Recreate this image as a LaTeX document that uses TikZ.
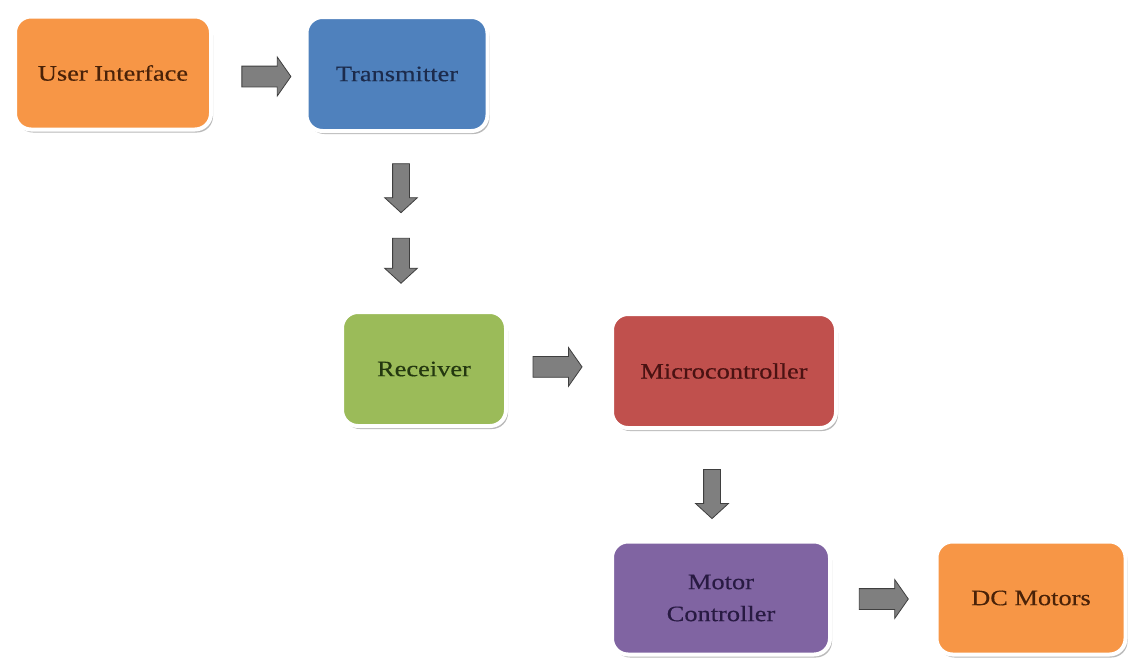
\documentclass[tikz,border=0pt]{standalone}
\usepackage{fontspec}
\setmainfont{Liberation Serif}[FakeStretch=1.2,FakeBold=0.4]
\usetikzlibrary{shapes.arrows,shadows,calc}
\definecolor{cOrange}{HTML}{F79646}
\definecolor{cBlue}{HTML}{4F81BD}
\definecolor{cGreen}{HTML}{9BBB59}
\definecolor{cRed}{HTML}{C0504D}
\definecolor{cPurple}{HTML}{8064A2}
\definecolor{tOrange}{HTML}{4A2208}
\definecolor{tBlue}{HTML}{1C2B4C}
\definecolor{tGreen}{HTML}{243810}
\definecolor{tRed}{HTML}{4A1212}
\definecolor{tPurple}{HTML}{281A42}
\definecolor{arrowgray}{HTML}{7F7F7F}
\definecolor{arrowedge}{HTML}{3F3F3F}
\begin{document}
\begin{tikzpicture}[x=1pt,y=-1pt,
  blk/.style={rectangle, rounded corners=16pt, draw=white, line width=4pt,
    font=\fontsize{22}{32}\selectfont, align=center,
    drop shadow={shadow xshift=2pt, shadow yshift=-3pt, fill=black!45, opacity=0.6}},
  harr/.style={single arrow, fill=arrowgray, draw=arrowedge, line width=0.8pt,
    inner xsep=0pt, inner ysep=10pt, single arrow head extend=9pt,
    single arrow tip angle=110, minimum height=49pt},
  varr/.style={single arrow, fill=arrowgray, draw=arrowedge, line width=0.8pt,
    inner xsep=0pt, inner ysep=8pt, single arrow head extend=8pt,
    single arrow tip angle=95, minimum height=49pt, rotate=-90}
]
\fill[white] (0,0) rectangle (1135,667);
\useasboundingbox (0,0) rectangle (1135,667);

\node[blk, fill=cOrange, text=tOrange, minimum width=196pt, minimum height=113pt] (ui) at (113,73) {User Interface};
\node[blk, fill=cBlue, text=tBlue, minimum width=181pt, minimum height=114pt] (tx) at (397,74) {Transmitter};
\node[blk, fill=cGreen, text=tGreen, minimum width=164pt, minimum height=114pt] (rx) at (424,369) {Receiver};
\node[blk, fill=cRed, text=tRed, minimum width=224pt, minimum height=114pt] (mc) at (724,371) {Microcontroller};
\node[blk, fill=cPurple, text=tPurple, minimum width=218pt, minimum height=113pt] (mot) at (721,598) {Motor\\Controller};
\node[blk, fill=cOrange, text=tOrange, minimum width=189pt, minimum height=113pt] (dc) at (1031,598) {DC Motors};

\node[harr] (a1) at ($(ui.east)!0.5!(tx.west)+(4,3)$) {};
\node[varr] (a2) at ($(tx.south)!0.29!(tx.south|-rx.north)+(4,0)$) {};
\node[varr, minimum height=45pt] (a3) at ($(tx.south)!0.70!(tx.south|-rx.north)+(4,0)$) {};
\node[harr] (a4) at ($(rx.east)!0.45!(mc.west)+(0,-3)$) {};
\node[varr] (a5) at ($(mc.south)!0.55!(mc.south|-mot.north)+(-12,0)$) {};
\node[harr] (a6) at ($(mot.east)!0.47!(dc.west)+(0,1)$) {};
\end{tikzpicture}
\end{document}
